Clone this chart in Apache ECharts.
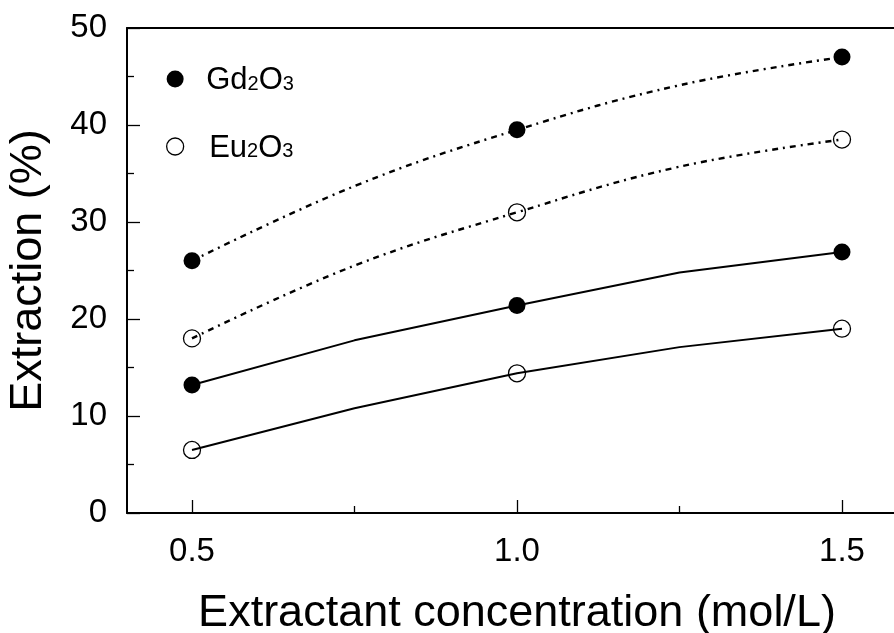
<!DOCTYPE html>
<html>
<head>
<meta charset="utf-8">
<script src="https://cdn.jsdelivr.net/npm/echarts@6/dist/echarts.min.js"></script>
<style>
html,body{margin:0;padding:0;background:#fff;}
#chart{width:894px;height:633px;}
</style>
</head>
<body>
<div id="chart"></div>
<script>
// ---- data ----
const concentrations = [0.5, 1.0, 1.5];
const gdHigh = [26.0, 39.5, 47.0];   // Gd2O3, dash-dot set
const euHigh = [18.0, 31.0, 38.5];   // Eu2O3, dash-dot set
const gdLow  = [13.2, 21.4, 26.9];   // Gd2O3, solid set
const euLow  = [6.5, 14.4, 19.0];    // Eu2O3, solid set

const curveX = [0.5, 0.75, 1.0, 1.25, 1.5];
const gdHighCurve = [26.0, 33.7, 39.5, 44.1, 47.0];
const euHighCurve = [18.0, 25.5, 31.0, 35.7, 38.5];
const gdLowCurve  = [13.2, 17.8, 21.4, 24.8, 26.9];
const euLowCurve  = [6.5, 10.8, 14.4, 17.1, 19.0];

const xMajorTicks = [0.5, 1.0, 1.5];
const xMinorTicks = [0.75, 1.25];
const legendNames = ['Gd2O3', 'Eu2O3'];

// ---- chart ----
const FONT = "'Liberation Sans', Arial, sans-serif";
const pair = (xs, ys) => xs.map((x, i) => [x, ys[i]]);

const chart = echarts.init(document.getElementById('chart'));
const dashPattern = [6, 5, 2, 5];

const lineSeries = (data, dashed) => ({
  type: 'line',
  data: data,
  showSymbol: false,
  symbol: 'none',
  smooth: dashed ? 0.4 : false,
  silent: true,
  z: 2,
  lineStyle: { color: '#000', width: dashed ? 2.4 : 2, type: dashed ? dashPattern : 'solid' }
});

const option = {
  animation: false,
  backgroundColor: '#fff',
  textStyle: { fontFamily: FONT },
  grid: { left: 127, right: 0, top: 28, bottom: 120, containLabel: false, outerBoundsMode: 'none' },
  legend: {
    orient: 'vertical',
    left: 161,
    top: 60,
    itemWidth: 52,
    itemHeight: 17,
    itemGap: 35,
    data: [
      { name: legendNames[0], icon: 'circle', itemStyle: { color: '#000', borderWidth: 0 } },
      { name: legendNames[1], icon: 'circle', itemStyle: { color: 'rgba(0,0,0,0)', borderColor: '#000', borderWidth: 1.3 } }
    ],
    formatter: function (name) {
      if (name === legendNames[0]) return '{n|Gd}{s|2}{n|O}{s|3}';
      return '{p|}{n|Eu}{s|2}{n|O}{s|3}';
    },
    textStyle: {
      fontFamily: FONT,
      color: '#000',
      fontSize: 31,
      rich: {
        n: { fontSize: 31, lineHeight: 34, fontFamily: FONT, color: '#000', verticalAlign: 'bottom' },
        s: { fontSize: 20, lineHeight: 34, fontFamily: FONT, color: '#000', verticalAlign: 'bottom', padding: [0, 0, 2, 0] },
        p: { width: 3 }
      }
    }
  },
  xAxis: [
    {
      type: 'value', position: 'bottom', min: 0.4, max: 1.58,
      name: 'Extractant concentration (mol/L)',
      nameLocation: 'middle', nameGap: 78,
      nameTextStyle: { fontSize: 45, fontFamily: FONT, color: '#000', padding: [0, 0, 0, 13] },
      axisLine: { show: true, onZero: false, lineStyle: { color: '#000', width: 2 } },
      axisTick: { show: true, inside: true, length: 13, customValues: xMajorTicks, lineStyle: { color: '#000', width: 1.3 } },
      axisLabel: {
        show: true, customValues: xMajorTicks, margin: 22,
        fontSize: 33, fontFamily: FONT, color: '#000',
        formatter: v => Number(v).toFixed(1)
      },
      splitLine: { show: false }
    },
    {
      type: 'value', position: 'bottom', min: 0.4, max: 1.58,
      axisLine: { show: false },
      axisTick: { show: true, inside: true, length: 7, customValues: xMinorTicks, lineStyle: { color: '#000', width: 1.3 } },
      axisLabel: { show: false },
      splitLine: { show: false }
    },
    {
      type: 'value', position: 'top', min: 0.4, max: 1.58,
      axisLine: { show: true, onZero: false, lineStyle: { color: '#000', width: 2 } },
      axisTick: { show: false },
      axisLabel: { show: false },
      splitLine: { show: false }
    }
  ],
  yAxis: {
    type: 'value', min: 0, max: 50, interval: 10,
    name: 'Extraction (%)',
    nameLocation: 'middle', nameGap: 76,
    nameTextStyle: { fontSize: 45, fontFamily: FONT, color: '#000' },
    axisLine: { show: true, onZero: false, lineStyle: { color: '#000', width: 2 } },
    axisTick: { show: true, inside: true, length: 13, lineStyle: { color: '#000', width: 1.3 } },
    minorTick: { show: true, splitNumber: 2, length: 7, lineStyle: { color: '#000', width: 1.3 } },
    axisLabel: { margin: 20, fontSize: 33, fontFamily: FONT, color: '#000' },
    splitLine: { show: false }
  },
  series: [
    lineSeries(pair(curveX, gdHighCurve), true),
    lineSeries(pair(curveX, euHighCurve), true),
    lineSeries(pair(curveX, gdLowCurve), false),
    lineSeries(pair(curveX, euLowCurve), false),
    {
      name: legendNames[0], type: 'scatter', symbol: 'circle', symbolSize: 17, z: 5,
      itemStyle: { color: '#000', opacity: 1 },
      data: pair(concentrations, gdHigh).concat(pair(concentrations, gdLow))
    },
    {
      name: legendNames[1], type: 'scatter', symbol: 'circle', symbolSize: 17, z: 5,
      itemStyle: { color: 'rgba(0,0,0,0)', borderColor: '#000', borderWidth: 1.3, opacity: 1 },
      data: pair(concentrations, euHigh).concat(pair(concentrations, euLow))
    }
  ]
};
chart.setOption(option);
</script>
</body>
</html>
